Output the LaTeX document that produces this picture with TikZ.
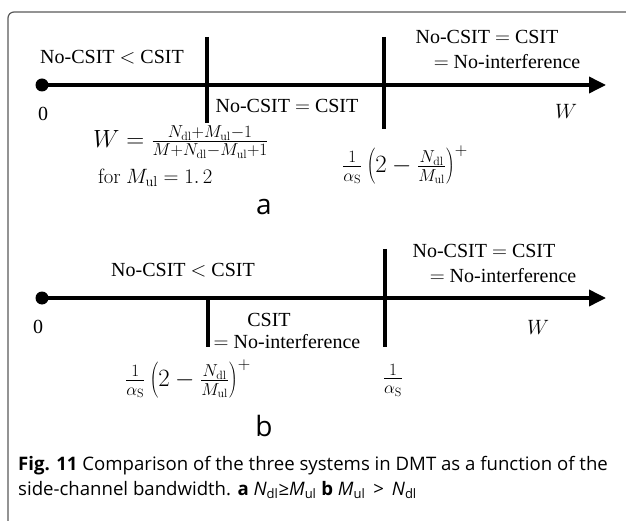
\documentclass[tikz,border=0pt]{standalone}
\usepackage[no-math]{fontspec}
\setmainfont{Liberation Serif}
\newfontfamily\capfont{Open Sans}
\usetikzlibrary{arrows.meta}
\begin{document}
\begin{tikzpicture}[x=1pt,y=-1pt,
  lbl/.style={inner sep=0pt,font=\fontsize{20}{23}\selectfont},
  frm/.style={inner sep=0pt,font=\fontsize{23}{26}\selectfont},
  axis/.style={line width=3.6pt,-{Triangle[length=17pt,width=16pt]}},
  bar/.style={line width=3.6pt},
  dotn/.style={circle,fill=black,inner sep=0pt,minimum size=13pt},
  panel/.style={inner sep=0pt,font=\capfont\fontsize{28}{30}\selectfont},
  captxt/.style={inner sep=0pt,anchor=west,font=\capfont\fontsize{18.6}{21}\selectfont}]
\useasboundingbox (0,0) rectangle (626,521);
\clip (0,0) rectangle (626,521);
\draw[line width=1.2pt,color=black!65,rounded corners=6pt] (8,540) -- (8,12) -- (660,12);
% panel a
\node[dotn] (a0) at (42,85) {};
\coordinate (aend) at (606,85);
\draw[axis] (a0.center) -- (aend);
\coordinate (a1t) at (207,37); \coordinate (a1b) at (207,123);
\coordinate (a2t) at (384,37); \coordinate (a2b) at (384,129);
\draw[bar] (a1t) -- (a1b);
\draw[bar] (a2t) -- (a2b);
\node[lbl] (al1) at (112,57) {No-CSIT $<$ CSIT};
\node[lbl] (ar1) at (487,37) {No-CSIT $=$ CSIT};
\node[lbl] (ar2) at (507,62) {$=$ No-interference};
\node[lbl] (az) at (43,114) {0};
\node[lbl] (am) at (287,106) {No-CSIT $=$ CSIT};
\node[lbl] (aw) at (566,111) {$W$};
\node[frm,anchor=west,font=\fontsize{24.5}{27}\selectfont] (af1) at (93,142) {$W=\frac{N_{\rm dl}+M_{\rm ul}-1}{M+N_{\rm dl}-M_{\rm ul}+1}$};
\node[frm,anchor=west,font=\fontsize{21}{24}\selectfont] (af2) at (98,178) {$\mathrm{for}\ M_{\rm ul}=1.\,2$};
\node[frm,anchor=west] (af3) at (342,165) {$\frac{1}{\alpha_{\rm S}}\left(2-\frac{N_{\rm dl}}{M_{\rm ul}}\right)^{+}$};
\node[panel] (pa) at (264,207) {a};
% panel b
\node[dotn] (b0) at (42,298) {};
\coordinate (bend) at (606,298);
\draw[axis] (b0.center) -- (bend);
\coordinate (b1t) at (208,298); \coordinate (b1b) at (208,347);
\coordinate (b2t) at (385,249); \coordinate (b2b) at (385,347);
\draw[bar] (b1t) -- (b1b);
\draw[bar] (b2t) -- (b2b);
\node[lbl] (bl1) at (183,270) {No-CSIT $<$ CSIT};
\node[lbl] (br1) at (484,251) {No-CSIT $=$ CSIT};
\node[lbl] (br2) at (503,276) {$=$ No-interference};
\node[lbl] (bz) at (38,327) {0};
\node[lbl] (bm1) at (269,320) {CSIT};
\node[lbl] (bm2) at (287,342) {$=$ No-interference};
\node[lbl] (bw) at (538,327) {$W$};
\node[frm,anchor=west] (bf1) at (125,379) {$\frac{1}{\alpha_{\rm S}}\left(2-\frac{N_{\rm dl}}{M_{\rm ul}}\right)^{+}$};
\node[frm] (bf2) at (393,380) {$\frac{1}{\alpha_{\rm S}}$};
\node[panel] (pb) at (264,426) {b};
% caption
\node[captxt] (c1) at (18,466) {\textbf{Fig. 11} Comparison of the three systems in DMT as a function of the};
\node[captxt] (c2) at (18,490) {side-channel bandwidth. \textbf{a} \textit{N}\textsubscript{dl}≥\textit{M}\textsubscript{ul} \textbf{b} \textit{M}\textsubscript{ul} \,>\, \textit{N}\textsubscript{dl}};
\end{tikzpicture}
\end{document}
